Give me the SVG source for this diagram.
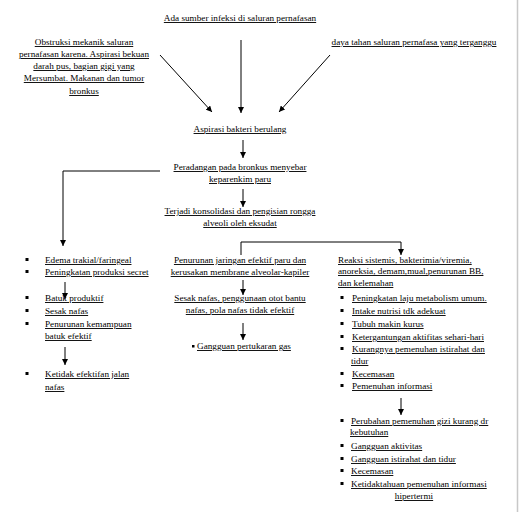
<svg xmlns="http://www.w3.org/2000/svg" width="519" height="512" viewBox="0 0 519 512">
<defs>
<marker id="ah" viewBox="0 0 10 10" refX="10" refY="5" markerWidth="6" markerHeight="6" orient="auto" markerUnits="userSpaceOnUse">
<path d="M0,0 L10,5 L0,10 z" fill="#000"/>
</marker>
</defs>
<style>
text{font-family:"Liberation Serif","Times New Roman",serif;font-size:9.2px;fill:#000;text-decoration:underline wavy #e00000;}
.m{text-anchor:middle;}
.c{stroke:#000;stroke-width:1;fill:none;}
.a{marker-end:url(#ah);}
.b{fill:#000;}
</style>
<rect width="519" height="512" fill="#fff"/>
<line x1="517.5" y1="0" x2="517.5" y2="512" stroke="#c8c8c8" stroke-width="1.5"/>

<g id="connectors">
<line class="c a" x1="160" y1="55" x2="212" y2="112"/>
<line class="c a" x1="241" y1="40" x2="241" y2="113"/>
<line class="c a" x1="330" y1="55" x2="279" y2="112"/>
<line class="c a" x1="243" y1="140" x2="243" y2="158"/>
<polyline class="c a" points="160,171 63,171 63,246"/>
<line class="c a" x1="243" y1="189" x2="243" y2="207"/>
<polyline class="c a" points="241,255 241,242 401,242 401,255"/>
<line class="c a" x1="65" y1="282" x2="65" y2="299"/>
<line class="c a" x1="65" y1="347" x2="65" y2="365"/>
<line class="c a" x1="243" y1="280" x2="243" y2="295"/>
<line class="c a" x1="243" y1="323" x2="243" y2="340"/>
<line class="c a" x1="401" y1="398" x2="401" y2="415"/>
</g>

<g id="n-sumber">
<text class="m" x="240" y="21">Ada sumber infeksi di saluran pernafasan</text>
</g>
<g id="n-obstruksi">
<text class="m" x="84" y="45">Obstruksi mekanik saluran</text>
<text class="m" x="84" y="57">pernafasan karena. Aspirasi bekuan</text>
<text class="m" x="84" y="69">darah pus, bagian gigi yang</text>
<text class="m" x="84" y="81">Mersumbat. Makanan dan tumor</text>
<text class="m" x="84" y="94">bronkus</text>
</g>
<g id="n-dayatahan">
<text class="m" x="414" y="45">daya tahan saluran pernafasa yang terganggu</text>
</g>
<g id="n-aspirasi">
<text class="m" x="240" y="132">Aspirasi bakteri berulang</text>
</g>
<g id="n-peradangan">
<text class="m" x="240" y="170">Peradangan pada bronkus menyebar</text>
<text class="m" x="240" y="182">keparenkim paru</text>
</g>
<g id="n-konsolidasi">
<text class="m" x="240" y="214">Terjadi konsolidasi dan pengisian rongga</text>
<text class="m" x="240" y="226">alveoli oleh eksudat</text>
</g>

<g id="n-left">
<rect class="b" x="25.5" y="258" width="3" height="3"/>
<text x="45" y="263">Edema trakial/faringeal</text>
<rect class="b" x="25.5" y="270" width="3" height="3"/>
<text x="45" y="275">Peningkatan produksi secret</text>
<rect class="b" x="25.5" y="296" width="3" height="3"/>
<text x="45" y="301">Batuk produktif</text>
<rect class="b" x="25.5" y="309" width="3" height="3"/>
<text x="45" y="314">Sesak nafas</text>
<rect class="b" x="25.5" y="322" width="3" height="3"/>
<text x="45" y="327">Penurunan kemampuan</text>
<text x="45" y="339">batuk efektif</text>
<rect class="b" x="25.5" y="372" width="3" height="3"/>
<text x="45" y="377">Ketidak efektifan jalan</text>
<text x="45" y="390">nafas</text>
</g>

<g id="n-middle">
<text class="m" x="240" y="263">Penurunan jaringan efektif paru dan</text>
<text class="m" x="240" y="275">kerusakan membrane alveolar-kapiler</text>
<text class="m" x="240" y="301">Sesak nafas, penggunaan otot bantu</text>
<text class="m" x="240" y="313">nafas, pola nafas tidak efektif</text>
<rect class="b" x="192" y="345" width="2.5" height="2.5"/>
<text x="197" y="349">Gangguan pertukaran gas</text>
</g>

<g id="n-right">
<text x="338" y="263">Reaksi sistemis, bakterimia/viremia,</text>
<text x="338" y="274">anoreksia, demam,mual,penurunan BB,</text>
<text x="338" y="286">dan kelemahan</text>
<rect class="b" x="340.5" y="296" width="3" height="3"/>
<text x="352" y="301">Peningkatan laju metabolism umum.</text>
<rect class="b" x="340.5" y="309" width="3" height="3"/>
<text x="352" y="314">Intake nutrisi tdk adekuat</text>
<rect class="b" x="340.5" y="322" width="3" height="3"/>
<text x="352" y="327">Tubuh makin kurus</text>
<rect class="b" x="340.5" y="335" width="3" height="3"/>
<text x="352" y="340">Ketergantungan aktifitas sehari-hari</text>
<rect class="b" x="340.5" y="347" width="3" height="3"/>
<text x="352" y="352">Kurangnya pemenuhan istirahat dan</text>
<text x="351" y="364">tidur</text>
<rect class="b" x="340.5" y="372" width="3" height="3"/>
<text x="352" y="377">Kecemasan</text>
<rect class="b" x="340.5" y="384" width="3" height="3"/>
<text x="352" y="389">Pemenuhan informasi</text>
</g>

<g id="n-right2">
<rect class="b" x="340.5" y="419" width="3" height="3"/>
<text x="351" y="424">Perubahan pemenuhan gizi kurang dr</text>
<text x="350" y="435">kebutuhan</text>
<rect class="b" x="340.5" y="444" width="3" height="3"/>
<text x="351" y="449">Gangguan aktivitas</text>
<rect class="b" x="340.5" y="457" width="3" height="3"/>
<text x="351" y="462">Gangguan  istirahat dan tidur</text>
<rect class="b" x="340.5" y="469" width="3" height="3"/>
<text x="351" y="474">Kecemasan</text>
<rect class="b" x="340.5" y="482" width="3" height="3"/>
<text x="351" y="487">Ketidaktahuan pemenuhan informasi</text>
<text class="m" x="414" y="499">hipertermi</text>
</g>
</svg>
